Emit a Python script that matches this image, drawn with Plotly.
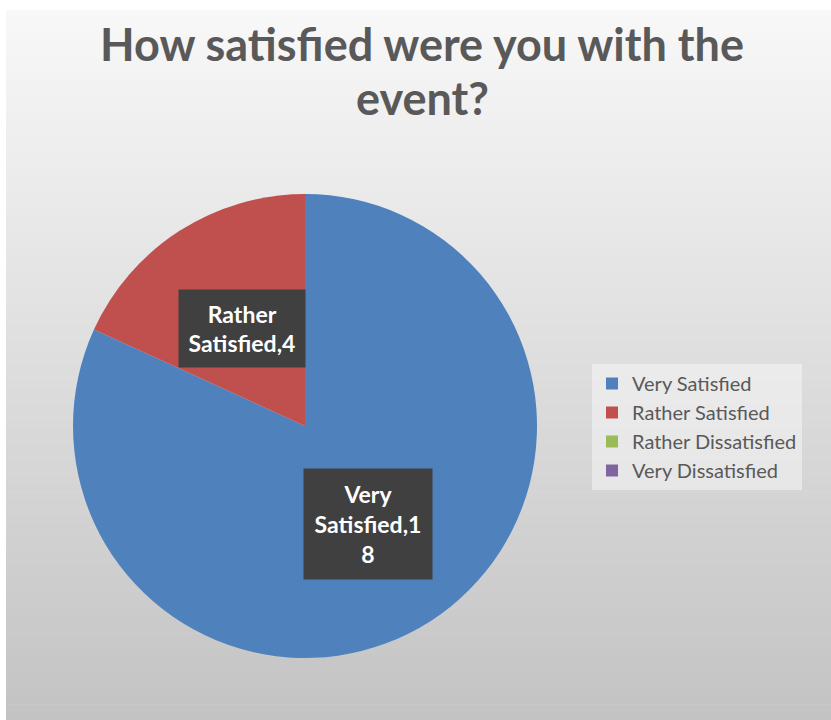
import math
import plotly.graph_objects as go

# Survey answers
categories = ["Very Satisfied", "Rather Satisfied", "Rather Dissatisfied", "Very Dissatisfied"]
responses = [18, 4, 0, 0]
slice_colors = ["#4f81bd", "#c0504d", "#9bbb59", "#8064a2"]
title_lines = ["How satisfied were you with the", "event?"]

W, H = 831, 720
FONT = "Lato"

# pie placement in pixels
cx, cy, R = 305, 426, 232

fig = go.Figure()
fig.add_trace(go.Pie(
    labels=categories,
    values=responses,
    marker=dict(colors=slice_colors, line=dict(width=0)),
    sort=False,
    direction="clockwise",
    rotation=0,
    textinfo="none",
    hoverinfo="label+value",
    domain=dict(x=[(cx - R) / W, (cx + R) / W], y=[1 - (cy + R) / H, 1 - (cy - R) / H]),
    showlegend=True,
))

# vertical grey gradient behind the chart
shapes = []
top_y, bot_y, left_x = 10, 720, 6
n_bands = 90
c_top, c_bot = 248, 195
for i in range(n_bands):
    y0 = top_y + (bot_y - top_y) * i / n_bands
    y1 = top_y + (bot_y - top_y) * (i + 1) / n_bands + 0.6
    t = (i + 0.5) / n_bands
    c = round(c_top + (c_bot - c_top) * t)
    shapes.append(dict(
        type="rect", xref="paper", yref="paper", layer="below",
        x0=left_x / W, x1=1, y0=1 - min(y1, H) / H, y1=1 - y0 / H,
        line=dict(width=0), fillcolor=f"rgb({c},{c},{c})",
    ))

annotations = []

# two-line chart title
for line, yc in zip(title_lines, [44, 98]):
    annotations.append(dict(
        x=422 / W, y=1 - yc / H, xref="paper", yref="paper",
        xanchor="center", yanchor="middle", showarrow=False,
        text=f"<b>{line}</b>",
        font=dict(family=FONT, size=45, color="#595959"),
    ))

# data labels in dark boxes, placed at half radius along each slice's mid-angle
total = sum(responses)
start = 0.0
for name, v in zip(categories, responses):
    if v == 0:
        start += v
        continue
    mid = (start + v / 2) / total * 2 * math.pi
    start += v
    lx = cx + 0.5 * R * math.sin(mid)
    ly = cy - 0.5 * R * math.cos(mid)
    first, second = name.split(" ")
    txt = f"{second},{v}"
    if len(txt) > 11:
        txt = txt[:11] + "<br>" + txt[11:]
    n_lines = 2 + txt.count("<br>")
    annotations.append(dict(
        x=lx / W, y=1 - ly / H, xref="paper", yref="paper",
        xanchor="center", yanchor="middle",
        text=f"<b>{first}<br>{txt}</b>", showarrow=False,
        font=dict(family=FONT, size=23, color="white"),
        bgcolor="#404040", borderpad=4,
        width=118 if n_lines == 2 else 120, height=69 if n_lines == 2 else 102,
        align="center", valign="middle",
    ))

fig.update_layout(
    width=W, height=H,
    margin=dict(l=0, r=0, t=0, b=0),
    paper_bgcolor="white",
    shapes=shapes,
    annotations=annotations,
    legend=dict(
        x=592 / W, y=1 - 364 / H, xanchor="left", yanchor="top",
        bgcolor="rgba(245,245,245,0.55)",
        font=dict(family=FONT, size=20, color="#595959"),
        itemwidth=30, tracegroupgap=0,
    ),
)

fig.write_html("out.html")
